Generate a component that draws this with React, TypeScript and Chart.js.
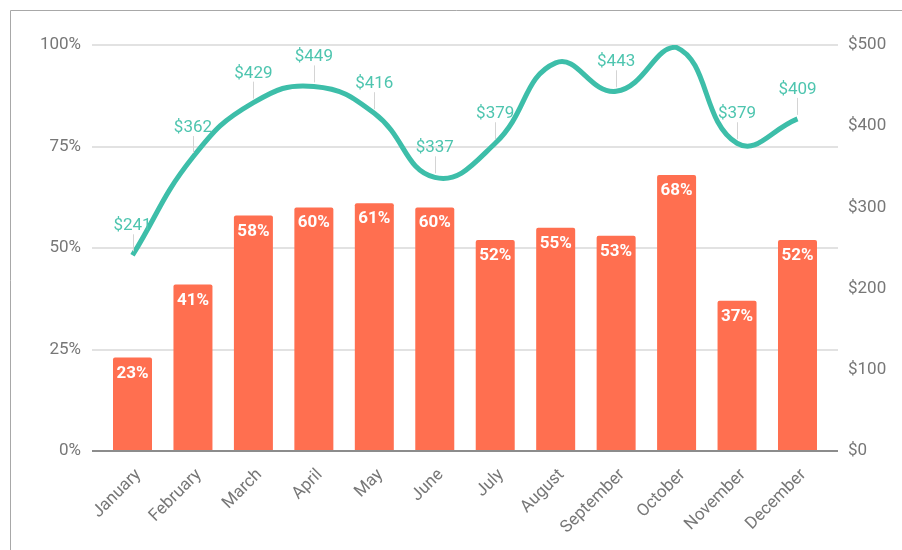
import React, { useEffect, useRef } from "react";
import { Chart, registerables } from "chart.js";

Chart.register(...registerables);

const months = [
  "January", "February", "March", "April", "May", "June",
  "July", "August", "September", "October", "November", "December",
];
const sharePercent = [23, 41, 58, 60, 61, 60, 52, 55, 53, 68, 37, 52];
const revenue = [241, 362, 429, 449, 416, 337, 379, 478, 443, 497, 379, 409];
const revenueLabelShown = [true, true, true, true, true, true, true, false, true, false, true, true];
const percentAxis = { min: 0, max: 100, step: 25 };
const dollarAxis = { min: 0, max: 500, step: 100 };

const BAR_COLOR = "#FF6F50";
const LINE_COLOR = "#3DBEA9";
const LABEL_COLOR = "#4EC5AF";
const TICK_COLOR = "#777777";
const FONT = "Roboto";

const framePlugin = {
  id: "frame",
  beforeDraw(chart: any) {
    const ctx = chart.ctx;
    ctx.save();
    ctx.strokeStyle = "#a8a8a8";
    ctx.lineWidth = 1;
    ctx.beginPath();
    ctx.moveTo(10.5, chart.height);
    ctx.lineTo(10.5, 10.5);
    ctx.lineTo(chart.width, 10.5);
    ctx.stroke();
    ctx.restore();
  },
};

const labelPlugin = {
  id: "valueLabels",
  afterDatasetsDraw(chart: any) {
    const ctx = chart.ctx;
    ctx.save();
    const barMeta = chart.getDatasetMeta(0);
    ctx.font = `bold 17px ${FONT}`;
    ctx.fillStyle = "#ffffff";
    ctx.textAlign = "center";
    ctx.textBaseline = "alphabetic";
    barMeta.data.forEach((bar: any, i: number) => {
      ctx.fillText(`${sharePercent[i]}%`, bar.x, bar.y + 20);
    });
    const lineMeta = chart.getDatasetMeta(1);
    lineMeta.data.forEach((pt: any, i: number) => {
      if (!revenueLabelShown[i]) return;
      ctx.strokeStyle = "#d4d4d4";
      ctx.lineWidth = 1;
      ctx.beginPath();
      ctx.moveTo(Math.round(pt.x) + 0.5, pt.y - 4);
      ctx.lineTo(Math.round(pt.x) + 0.5, pt.y - 21);
      ctx.stroke();
      ctx.font = `17px ${FONT}`;
      ctx.fillStyle = LABEL_COLOR;
      ctx.fillText(`$${revenue[i]}`, pt.x, pt.y - 25);
    });
    ctx.restore();
  },
};

export default function App() {
  const canvasRef = useRef<HTMLCanvasElement | null>(null);

  useEffect(() => {
    if (!canvasRef.current) return;
    const chart = new Chart(canvasRef.current, {
      type: "bar",
      data: {
        labels: months,
        datasets: [
          {
            type: "bar",
            label: "Share",
            data: sharePercent,
            backgroundColor: BAR_COLOR,
            borderRadius: 2,
            borderSkipped: "bottom",
            barPercentage: 0.645,
            categoryPercentage: 1,
            yAxisID: "y",
            order: 2,
          },
          {
            type: "line",
            label: "Revenue",
            data: revenue,
            borderColor: LINE_COLOR,
            borderWidth: 5,
            tension: 0.45,
            pointRadius: 0,
            fill: false,
            yAxisID: "y1",
            order: 1,
          },
        ],
      } as any,
      options: {
        responsive: false,
        animation: false,
        devicePixelRatio: 1,
        layout: { padding: { top: 45, left: 0, right: 0, bottom: 0 } },
        plugins: {
          legend: { display: false },
          tooltip: { enabled: false },
        },
        scales: {
          x: {
            grid: { display: false, drawTicks: false },
            border: { display: false },
            ticks: {
              autoSkip: false,
              minRotation: 45,
              maxRotation: 45,
              padding: 14,
              labelOffset: 6,
              color: TICK_COLOR,
              font: { family: FONT, size: 17 },
            },
            afterBuildTicks: (scale: any) => {
              scale._startValue = -0.67;
              scale._valueRange = 12.34;
            },
            afterFit: (scale: any) => {
              scale.height = 99;
            },
          },
          y: {
            position: "left",
            min: percentAxis.min,
            max: percentAxis.max,
            grid: {
              drawTicks: false,
              lineWidth: 2,
              color: (c: any) => (c.tick && c.tick.value === 0 ? "#8c8c8c" : "#e2e2e2"),
            },
            border: { display: false },
            ticks: {
              stepSize: percentAxis.step,
              padding: 11,
              color: TICK_COLOR,
              font: { family: FONT, size: 17 },
              callback: (v: any) => `${v}%`,
            },
            afterFit: (scale: any) => {
              scale.width = 92;
            },
          },
          y1: {
            position: "right",
            min: dollarAxis.min,
            max: dollarAxis.max,
            grid: { drawOnChartArea: false, drawTicks: false },
            border: { display: false },
            ticks: {
              stepSize: dollarAxis.step,
              padding: 10,
              color: TICK_COLOR,
              font: { family: FONT, size: 17 },
              callback: (v: any) => `$${v}`,
            },
            afterFit: (scale: any) => {
              scale.width = 64;
            },
          },
        },
      } as any,
      plugins: [framePlugin, labelPlugin],
    });
    return () => chart.destroy();
  }, []);

  return (
    <div style={{ position: "absolute", left: 0, top: 0, width: 902, height: 550, background: "#fff" }}>
      <canvas ref={canvasRef} width={902} height={550} style={{ display: "block" }} />
    </div>
  );
}
